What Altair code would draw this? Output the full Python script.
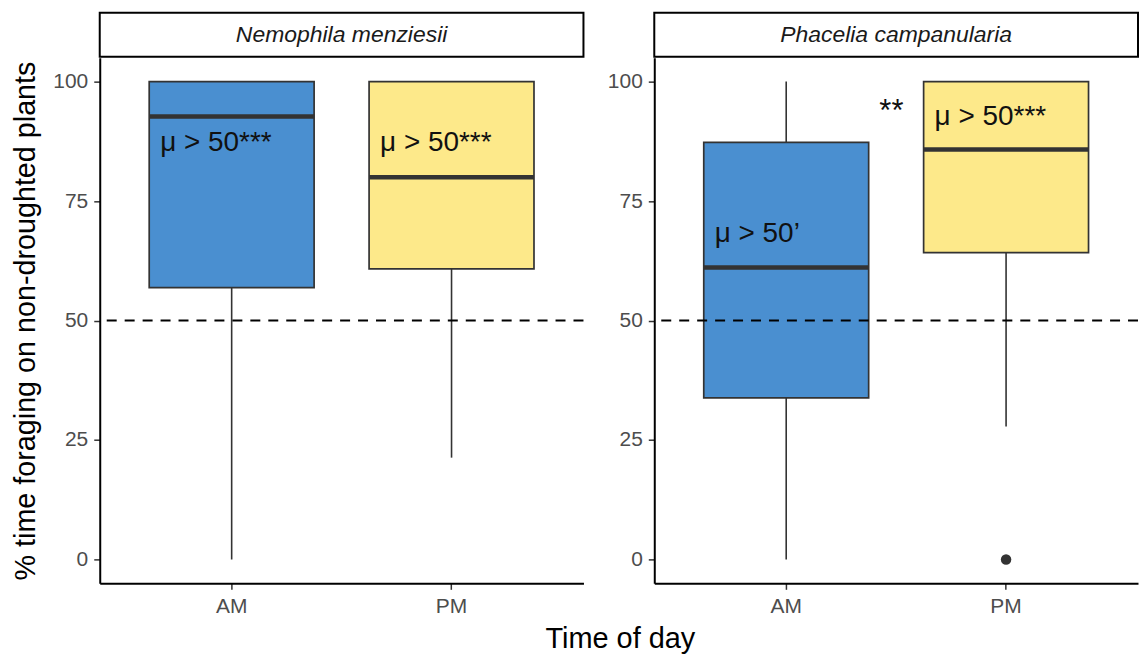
import altair as alt
import pandas as pd

FONT = "Liberation Sans"
SPECIES = ["Nemophila menziesii", "Phacelia campanularia"]
TIMES = ["AM", "PM"]
TIME_COLORS = ["#4a8fd0", "#fde98a"]

# Box summaries (whisker ends, quartiles, median) for each species x time
box_species = ["Nemophila menziesii", "Nemophila menziesii",
               "Phacelia campanularia", "Phacelia campanularia"]
box_time = ["AM", "PM", "AM", "PM"]
whisker_low = [0.0, 21.3, 0.0, 27.8]
quart_1 = [56.9, 60.8, 33.8, 64.2]
medians = [92.7, 80.0, 61.1, 85.8]
quart_3 = [100.0, 100.0, 87.3, 100.0]
whisker_high = [100.0, 100.0, 100.0, 100.0]

# Points beyond the whiskers
outlier_species = ["Phacelia campanularia"]
outlier_time = ["PM"]
outlier_value = [0.0]

# One-sample test annotations drawn inside the boxes
label_species = box_species
label_time = box_time
label_value = [85.5, 85.5, 66.5, 91.0]
label_text = ["μ > 50***", "μ > 50***", "μ > 50’", "μ > 50***"]

# AM vs PM comparison marker
sig_species = ["Phacelia campanularia"]
sig_time = ["PM"]
sig_value = [91.8]
sig_text = ["**"]

boxes = pd.DataFrame({"species": box_species, "time": box_time, "low": whisker_low,
                      "q1": quart_1, "median": medians, "q3": quart_3, "high": whisker_high})
outliers = pd.DataFrame({"species": outlier_species, "time": outlier_time, "value": outlier_value})
labels = pd.DataFrame({"species": label_species, "time": label_time,
                       "value": label_value, "text": label_text})
sigs = pd.DataFrame({"species": sig_species, "time": sig_time, "value": sig_value, "text": sig_text})

PANEL_W = 485
PANEL_H = 527
STRIP_H = 44
STEP = PANEL_W / 2.2
BOX_W = STEP * 0.75
INK = "#333333"

x_scale = alt.Scale(domain=TIMES, paddingInner=0.25, paddingOuter=0.225)
y_scale = alt.Scale(domain=[-5, 105], nice=False, zero=False)


def panel(sp, first):
    y_axis = alt.Axis(values=[0, 25, 50, 75, 100],
                      title="% time foraging on non-droughted plants" if first else None,
                      titlePadding=12, titleFontSize=28.8)
    X = alt.X("time:N", scale=x_scale, axis=alt.Axis(labelAngle=0, title=None))

    def Y(field):
        return alt.Y(field, type="quantitative", scale=y_scale, axis=y_axis)

    bx = alt.Chart(boxes[boxes.species == sp])
    whisk_lo = bx.mark_rule(color=INK, strokeWidth=1.6).encode(x=X, y=Y("low"), y2="q1")
    whisk_hi = bx.mark_rule(color=INK, strokeWidth=1.6).encode(x=X, y=Y("q3"), y2="high")
    body = bx.mark_bar(stroke=INK, strokeWidth=1.7, opacity=1).encode(
        x=X, y=Y("q1"), y2="q3",
        color=alt.Color("time:N", scale=alt.Scale(domain=TIMES, range=TIME_COLORS), legend=None),
    )
    mid = bx.mark_tick(color=INK, thickness=4.5, size=BOX_W, opacity=1).encode(x=X, y=Y("median"))
    layers = [whisk_lo, whisk_hi, body, mid]

    out = outliers[outliers.species == sp]
    if len(out):
        layers.append(alt.Chart(out).mark_circle(size=110, color=INK, opacity=1)
                      .encode(x=X, y=Y("value")))

    ref = alt.Chart(pd.DataFrame({"ref": [50]})).mark_rule(
        color="black", strokeWidth=2, strokeDash=[10, 8]).encode(y=Y("ref"))
    layers.append(ref)

    layers.append(alt.Chart(labels[labels.species == sp]).mark_text(
        align="left", baseline="alphabetic", dx=-BOX_W / 2 + 11,
        font=FONT, fontSize=28, color="#111111").encode(x=X, y=Y("value"), text="text:N"))

    sg = sigs[sigs.species == sp]
    if len(sg):
        layers.append(alt.Chart(sg).mark_text(
            align="center", baseline="alphabetic", dx=-115,
            font=FONT, fontSize=31, color="#111111").encode(x=X, y=Y("value"), text="text:N"))

    plot = alt.layer(*layers).properties(width=PANEL_W, height=PANEL_H)

    strip = alt.Chart(pd.DataFrame({"species": [sp]})).mark_text(
        font=FONT, fontSize=23, fontStyle="italic", color="#1a1a1a", baseline="middle"
    ).encode(
        text="species:N", x=alt.value(PANEL_W / 2), y=alt.value(STRIP_H / 2)
    ).properties(width=PANEL_W, height=STRIP_H,
                 view=alt.ViewBackground(stroke="black", strokeWidth=2, fill="white"))

    return alt.vconcat(strip, plot, spacing=0)


chart = alt.hconcat(
    panel(SPECIES[0], True), panel(SPECIES[1], False), spacing=22
).properties(
    title=alt.TitleParams("Time of day", orient="bottom", anchor="middle", dx=45,
                          font=FONT, fontSize=29, fontWeight="normal", color="black", offset=9),
    padding={"left": 11, "top": 11, "right": 0, "bottom": 0},
    background="white",
).configure_view(strokeWidth=0).configure_axis(
    grid=False, domainColor="black", domainWidth=2, tickColor=INK, tickWidth=1.5, tickSize=6,
    labelColor="#4d4d4d", labelFontSize=21, labelFont=FONT, labelPadding=6,
    titleFont=FONT, titleFontSize=28, titleFontWeight="normal", titleColor="black",
)

chart.save("out.html", embed_options={"renderer": "svg", "actions": False})
